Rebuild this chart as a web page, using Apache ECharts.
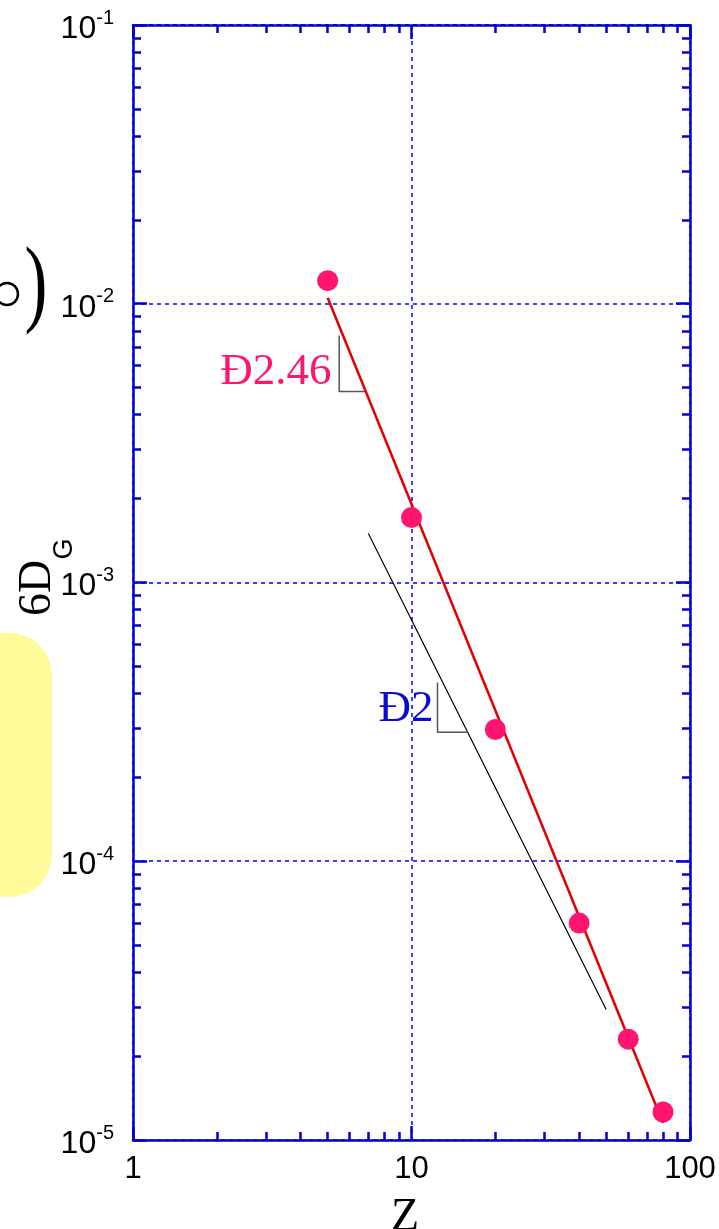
<!DOCTYPE html>
<html lang="en">
<head>
  <meta charset="UTF-8">
  <title>Z scaling</title>
  <style>
    html, body { margin: 0; padding: 0; background: #fff; }
    #echart { width: 719px; height: 1229px; }
  </style>
</head>
<body>
  <div id="echart"></div>
  <script src="https://cdn.jsdelivr.net/npm/echarts@6/dist/echarts.min.js"></script>
  <script>
    // measured points
    var zValues = [5, 10, 20, 40, 60, 80];
    var sigmaValues = [0.0121, 0.00171, 0.000297, 6.0e-5, 2.3e-5, 1.26e-5];
    // fitted line, slope -2.46
    var fitLine = [[5, 0.0105], [80, 1.15e-5]];
    // guide line, slope -2
    var guideLine = [[7, 1.5e-3], [50, 2.94e-5]];
    // slope triangles
    var fitTriangle = [[5.5, 0.0077], [5.5, 0.00484], [6.83, 0.00484]];
    var guideTriangle = [[12.4, 4.38e-4], [12.4, 2.9e-4], [16.0, 2.9e-4]];
    // slope labels [x, y, text]
    var slopeLabels = [[5.16, 0.0057, 'Ð2.46'], [12.0, 3.5e-4, 'Ð2']];
    var slopeColors = ['#ff1470', '#0a0ad0'];
    // tick labels
    var xTickLabels = ['1', '10', '100'];
    var yTickExponents = ['-5', '-4', '-3', '-2', '-1'];
    var minorSteps = [2, 3, 4, 5, 6, 7, 8, 9];

    var blue = '#0000d0';

    // minor tick positions in decades (log10 units)
    function minorTicks(from, to) {
      var out = [];
      for (var d = from; d < to; d++) {
        minorSteps.forEach(function (s) { out.push(d + Math.log10(s)); });
      }
      return out;
    }

    var majorAxis = function (extra) {
      return Object.assign({
        type: 'log',
        logBase: 10,
        axisLine: { show: true, onZero: false, lineStyle: { color: blue, width: 2.5 } },
        axisTick: { show: true, inside: true, length: 14, lineStyle: { color: blue, width: 2.5 } },
        splitLine: { show: false },
        axisLabel: { show: false }
      }, extra);
    };
    var minorAxis = function (extra, ticks) {
      return Object.assign({
        type: 'value',
        axisLine: { show: false, onZero: false },
        axisTick: { show: true, inside: true, length: 8, customValues: ticks, lineStyle: { color: blue, width: 2.5 } },
        splitLine: { show: false },
        axisLabel: { show: false }
      }, extra);
    };
    var gridLine = { show: true, lineStyle: { color: '#0000ff', width: 1.5, type: [4, 4] } };

    var xMain = majorAxis({
      position: 'bottom', min: 1, max: 100,
      splitLine: gridLine,
      axisLabel: {
        show: true, margin: 14, color: '#000', fontSize: 31, fontFamily: 'Liberation Sans',
        formatter: function (v) { return xTickLabels[Math.round(Math.log10(v))]; }
      }
    });
    var yMain = majorAxis({
      position: 'left', min: 1e-5, max: 1e-1,
      splitLine: gridLine,
      axisLabel: {
        show: true, margin: 19, color: '#000', fontFamily: 'Liberation Sans',
        formatter: function (v) {
          return '{a|10}{b|' + yTickExponents[Math.round(Math.log10(v)) + 5] + '}';
        },
        rich: {
          a: { fontSize: 32, fontFamily: 'Liberation Sans', color: '#000', lineHeight: 34, padding: [8, 0, 0, 0] },
          b: { fontSize: 20, fontFamily: 'Liberation Sans', color: '#000', lineHeight: 26, verticalAlign: 'top' }
        }
      }
    });

    var option = {
      animation: false,
      backgroundColor: '#fff',
      grid: { left: 133, right: 29, top: 25, bottom: 89 },
      xAxis: [
        xMain,
        minorAxis({ position: 'bottom', min: 0, max: 2 }, minorTicks(0, 2)),
        majorAxis({ position: 'top', min: 1, max: 100 }),
        minorAxis({ position: 'top', min: 0, max: 2 }, minorTicks(0, 2))
      ],
      yAxis: [
        yMain,
        minorAxis({ position: 'left', min: -5, max: -1 }, minorTicks(-5, -1)),
        majorAxis({ position: 'right', min: 1e-5, max: 1e-1 }),
        minorAxis({ position: 'right', min: -5, max: -1 }, minorTicks(-5, -1))
      ],
      graphic: [
        { type: 'rect', shape: { x: -40, y: 633, width: 92, height: 264, r: 42 }, style: { fill: '#fffb9a' } },
        { type: 'circle', shape: { cx: 7, cy: 294, r: 11 }, style: { fill: 'none', stroke: '#000', lineWidth: 2.5 } },
        { type: 'text', x: 36, y: 288, scaleX: 0.7, style: { text: ')', font: '98px "Liberation Serif"', fill: '#000', align: 'center', verticalAlign: 'middle' } },
        { type: 'text', x: 38, y: 588, rotation: Math.PI / 2, style: { text: '6D', font: '46px "Liberation Serif"', fill: '#000', align: 'center', verticalAlign: 'middle' } },
        { type: 'text', x: 65, y: 549, rotation: Math.PI / 2, style: { text: 'G', font: '27px "Liberation Sans"', fill: '#000', align: 'center', verticalAlign: 'middle' } },
        { type: 'text', x: 405, y: 1218, style: { text: 'Z', font: '46px "Liberation Serif"', fill: '#000', align: 'center', verticalAlign: 'middle' } }
      ],
      series: [
        {
          type: 'line', data: guideLine, symbol: 'none', z: 2,
          lineStyle: { color: '#000', width: 1.2 }
        },
        {
          type: 'line', data: fitTriangle, symbol: 'none', z: 2,
          lineStyle: { color: '#555', width: 1.5 }
        },
        {
          type: 'line', data: guideTriangle, symbol: 'none', z: 2,
          lineStyle: { color: '#555', width: 1.5 }
        },
        {
          type: 'line', data: fitLine, symbol: 'none', z: 3,
          lineStyle: { color: '#e00000', width: 2.5 }
        },
        {
          type: 'scatter', z: 4, symbolSize: 21,
          itemStyle: { color: '#ff1470', opacity: 1 },
          data: zValues.map(function (z, i) { return [z, sigmaValues[i]]; })
        },
        {
          type: 'scatter', z: 5, symbolSize: 0, silent: true,
          itemStyle: { opacity: 1 },
          data: slopeLabels.map(function (d, i) {
            return {
              value: [d[0], d[1]],
              label: {
                show: true, position: 'inside', formatter: d[2], align: 'right', verticalAlign: 'middle',
                fontFamily: 'Liberation Serif', fontSize: 45, color: slopeColors[i], opacity: 1
              }
            };
          })
        }
      ]
    };

    var myChart = echarts.init(document.getElementById('echart'));
    myChart.setOption(option);
  </script>
</body>
</html>
